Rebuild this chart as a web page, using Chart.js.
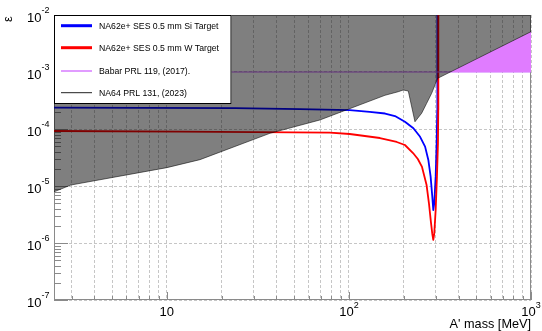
<!DOCTYPE html>
<html>
<head>
<meta charset="utf-8">
<script src="https://cdn.jsdelivr.net/npm/chart.js@4.4.1/dist/chart.umd.min.js"></script>
<style>
  html, body { margin: 0; padding: 0; background: #fff; }
</style>
</head>
<body>
<canvas id="dp-chart" width="542" height="331"></canvas>
<script>
// NA62e+ SES, 0.5 mm Si target
var siMass = [2.4, 23.6, 53.8, 101, 130, 158, 179, 203, 226, 246, 262, 273, 281, 287, 290.6, 294.3, 299.5, 303.3, 305.6, 306];
var siEps  = [2.37e-4, 2.33e-4, 2.24e-4, 2.15e-4, 1.99e-4, 1.87e-4, 1.69e-4, 1.34e-4, 1.03e-4, 7.3e-5, 4.9e-5, 2.86e-5, 1.46e-5, 6.5e-6, 3.79e-6, 5.0e-6, 1.46e-5, 5.7e-5, 2.15e-4, 1e-2];

// NA62e+ SES, 0.5 mm W target
var wMass = [2.4, 11.8, 78.6, 101, 148, 183, 203, 225, 239, 252, 267, 275, 282, 287, 290.6, 294.3, 299.5, 304.4, 308.3, 309.5, 309.8];
var wEps  = [9.22e-5, 8.97e-5, 8.61e-5, 8.17e-5, 6.95e-5, 5.92e-5, 5.24e-5, 3.79e-5, 2.98e-5, 2.16e-5, 1.04e-5, 5.03e-6, 2.34e-6, 1.44e-6, 1.13e-6, 1.48e-6, 3.79e-6, 1.46e-5, 5.6e-5, 2.15e-4, 1e-2];

// NA64 exclusion, lower edge (everything above is excluded)
var na64Mass = [2.4, 2.97, 10, 15.2, 36.8, 69.3, 157.7, 186.6, 198.8, 211.8, 230.5, 250.9, 267.3, 284.7, 296.9, 307.3, 1000];
var na64Eps  = [7.9e-6, 1.04e-5, 2.1e-5, 2.9e-5, 8.4e-5, 1.44e-4, 3.9e-4, 4.51e-4, 4.83e-4, 4.64e-4, 1.34e-4, 1.89e-4, 2.82e-4, 4.23e-4, 5.91e-4, 7.75e-4, 5.1e-3];

// BaBar limit
var babarMass = [2.4, 1000];
var babarEps  = [1e-3, 1e-3];

// grid positions
var xGrid = [3, 4, 5, 6, 7, 8, 9, 10, 20, 30, 40, 50, 60, 70, 80, 90, 100, 200, 300, 400, 500, 600, 700, 800, 900, 1000];
var yGrid = [1e-7, 1e-6, 1e-5, 1e-4, 1e-3, 1e-2];
var xLabels = [[10, '10', ''], [100, '10', '2'], [1000, '10', '3']];
var yLabels = [[1e-2, '-2'], [1e-3, '-3'], [1e-4, '-4'], [1e-5, '-5'], [1e-6, '-6'], [1e-7, '-7']];

var legendItems = [
  { text: 'NA62e+ SES 0.5 mm Si Target', color: '#0000ff', width: 3 },
  { text: 'NA62e+ SES 0.5 mm W Target', color: '#ff0000', width: 3 },
  { text: 'Babar PRL 119, (2017).', color: '#d77bff', width: 1.5 },
  { text: 'NA64 PRL 131, (2023)', color: '#222222', width: 1 }
];

function pts(xs, ys) {
  return xs.map(function (v, i) { return { x: v, y: ys[i] }; });
}

var FONT = '"Liberation Sans", Arial, Helvetica, sans-serif';

// ROOT-style ticks and frame, drawn under the datasets
var rootAxes = {
  id: 'rootAxes',
  beforeDatasetsDraw: function (chart) {
    var ctx = chart.ctx, a = chart.chartArea, x = chart.scales.x, y = chart.scales.y;
    ctx.save();
    ctx.strokeStyle = '#8a8a8a';
    ctx.lineWidth = 1;
    ctx.beginPath();
    for (var d = -7; d < -2; d++) {
      for (var k = 1; k < 10; k++) {
        var py = Math.round(y.getPixelForValue(k * Math.pow(10, d))) + 0.5;
        var len = k === 1 ? 14 : 7;
        ctx.moveTo(a.left, py);
        ctx.lineTo(a.left + len, py);
      }
    }
    xGrid.forEach(function (v) {
      var px = Math.round(x.getPixelForValue(v)) + 0.5;
      var len = (v === 10 || v === 100 || v === 1000) ? 8 : 4;
      ctx.moveTo(px, a.bottom);
      ctx.lineTo(px, a.bottom - len);
    });
    ctx.stroke();
    ctx.strokeRect(a.left + 0.5, a.top + 0.5, a.right - a.left - 1, a.bottom - a.top - 1);
    ctx.restore();
  },
  afterDraw: function (chart) {
    var ctx = chart.ctx, a = chart.chartArea, x = chart.scales.x, y = chart.scales.y;
    ctx.save();
    ctx.fillStyle = '#000';
    ctx.textBaseline = 'middle';

    // y labels: 10^n
    yLabels.forEach(function (l) {
      var py = y.getPixelForValue(l[0]);
      ctx.font = '13px ' + FONT;
      var wb = ctx.measureText('10').width;
      ctx.font = '9px ' + FONT;
      var ws = ctx.measureText(l[1]).width;
      var x0 = 49.5 - wb - ws;
      ctx.font = '13px ' + FONT;
      ctx.textAlign = 'left';
      ctx.fillText('10', x0, py + 3);
      ctx.font = '9px ' + FONT;
      ctx.fillText(l[1], x0 + wb, py - 4);
    });

    // x labels
    xLabels.forEach(function (l) {
      var px = x.getPixelForValue(l[0]);
      ctx.font = '13px ' + FONT;
      var wb = ctx.measureText(l[1]).width;
      ctx.font = '9px ' + FONT;
      var ws = l[2] ? ctx.measureText(l[2]).width : 0;
      var x0 = px - (wb + ws) / 2;
      ctx.textAlign = 'left';
      ctx.font = '13px ' + FONT;
      ctx.fillText(l[1], x0, 312.5);
      if (l[2]) {
        ctx.font = '9px ' + FONT;
        ctx.fillText(l[2], x0 + wb, 306);
      }
    });

    // axis titles
    ctx.font = '12.7px ' + FONT;
    ctx.textAlign = 'right';
    ctx.fillText("A' mass [MeV]", a.right, 324);
    ctx.save();
    ctx.translate(8.5, 19);
    ctx.rotate(-Math.PI / 2);
    ctx.textAlign = 'center';
    ctx.font = '13px ' + FONT;
    ctx.fillText('\u03b5', 0, 0);
    ctx.restore();

    // legend box
    var bx = a.left, by = a.top, bw = 177.5, bh = 89;
    ctx.fillStyle = '#fff';
    ctx.fillRect(bx, by, bw, bh);
    ctx.strokeStyle = '#000';
    ctx.lineWidth = 1;
    ctx.strokeRect(bx + 0.5, by + 0.5, bw - 1, bh - 1);
    var rows = [25.7, 47.7, 71, 92.7];
    ctx.font = '8.7px ' + FONT;
    ctx.textAlign = 'left';
    legendItems.forEach(function (it, i) {
      ctx.strokeStyle = it.color;
      ctx.lineWidth = it.width;
      ctx.beginPath();
      ctx.moveTo(61, rows[i]);
      ctx.lineTo(92, rows[i]);
      ctx.stroke();
      ctx.fillStyle = '#000';
      ctx.fillText(it.text, 99, rows[i] + 0.5);
    });
    ctx.restore();
  }
};

var layout = {
  type: 'scatter',
  data: {
    datasets: [
      {
        label: 'NA64 PRL 131, (2023)',
        data: pts(na64Mass, na64Eps),
        showLine: true,
        borderColor: 'rgba(0,0,0,0.55)',
        borderWidth: 1,
        backgroundColor: 'rgba(0,0,0,0.5)',
        fill: 'end',
        pointRadius: 0,
        order: 0
      },
      {
        label: 'Babar fill',
        data: pts(na64Mass, na64Eps),
        showLine: true,
        borderWidth: 0,
        borderColor: 'transparent',
        fill: { target: { value: 1e-3 }, above: '#e07cff', below: 'transparent' },
        pointRadius: 0,
        order: 1
      },
      {
        label: 'Babar PRL 119, (2017).',
        data: pts(babarMass, babarEps),
        showLine: true,
        borderColor: '#cc66ff',
        borderWidth: 1.2,
        pointRadius: 0,
        order: 2
      },
      {
        label: 'NA62e+ SES 0.5 mm W Target',
        data: pts(wMass, wEps),
        showLine: true,
        borderColor: '#ff0000',
        borderWidth: 1.8,
        borderJoinStyle: 'round',
        pointRadius: 0,
        order: 3
      },
      {
        label: 'NA62e+ SES 0.5 mm Si Target',
        data: pts(siMass, siEps),
        showLine: true,
        borderColor: '#0000ff',
        borderWidth: 1.8,
        borderJoinStyle: 'round',
        pointRadius: 0,
        order: 4
      }
    ]
  },
  options: {
    responsive: false,
    animation: false,
    layout: { padding: { top: 15, right: 11, left: 0, bottom: 0 } },
    plugins: {
      legend: { display: false },
      tooltip: { enabled: false }
    },
    scales: {
      x: {
        type: 'logarithmic',
        min: 2.4,
        max: 1000,
        afterBuildTicks: function (s) { s.ticks = xGrid.map(function (v) { return { value: v }; }); },
        afterFit: function (s) { s.height = 31; },
        ticks: { display: false },
        grid: { color: '#c6c6c6', lineWidth: 1, drawTicks: false },
        border: { display: false, dash: [3, 2] }
      },
      y: {
        type: 'logarithmic',
        min: 1e-7,
        max: 1e-2,
        afterBuildTicks: function (s) { s.ticks = yGrid.map(function (v) { return { value: v }; }); },
        afterFit: function (s) { s.width = 54; },
        ticks: { display: false },
        grid: { color: '#c6c6c6', lineWidth: 1, drawTicks: false },
        border: { display: false, dash: [3, 2] }
      }
    }
  },
  plugins: [rootAxes]
};

new Chart(document.getElementById('dp-chart'), layout);
</script>
</body>
</html>
